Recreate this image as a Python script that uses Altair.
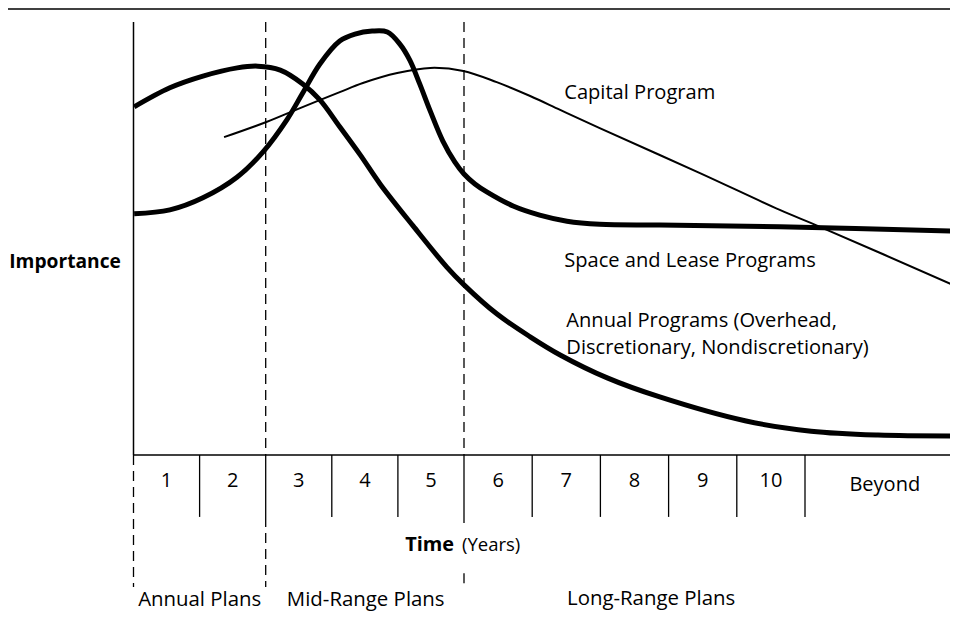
import altair as alt
import pandas as pd

# ---- curve values (x = years, y = relative importance; 0 = time axis, 100 = top of importance axis)
annual_x = [0.01, 0.55, 1.05, 1.57, 1.88, 2.22, 2.56, 2.82, 3.12, 3.43, 3.73, 4.23, 4.74, 5.00,
            5.48, 5.97, 6.41, 7.10, 7.87, 9.12, 10.09, 11.07, 12.14]
annual_y = [80.4, 84.8, 87.5, 89.4, 89.8, 88.9, 85.7, 82.0, 75.8, 69.3, 62.6, 52.9, 43.4, 39.3,
            32.6, 27.3, 23.1, 17.8, 13.4, 7.9, 5.5, 4.6, 4.4]

space_x = [0.01, 0.55, 1.05, 1.57, 1.96, 2.32, 2.56, 2.82, 3.12, 3.35, 3.61, 3.84, 4.03, 4.18,
           4.33, 4.49, 4.68, 4.86, 5.00, 5.16, 5.34, 5.72, 6.11, 6.51, 6.99, 7.87, 9.63, 12.20]
space_y = [55.7, 56.6, 59.4, 64.2, 70.0, 77.4, 83.6, 90.3, 95.6, 97.2, 97.9, 97.7, 94.9, 91.2,
           85.7, 79.4, 72.5, 67.7, 64.9, 62.6, 60.7, 57.5, 55.4, 54.0, 53.3, 53.1, 52.7, 51.7]

capital_x = [1.37, 2.01, 2.52, 3.12, 3.47, 3.99, 4.49, 4.99, 5.48, 5.97, 6.41, 6.99, 8.46, 9.63,
             10.22, 12.24]
capital_y = [73.4, 76.9, 80.1, 83.8, 85.9, 88.2, 89.4, 88.7, 86.1, 82.9, 79.7, 75.5, 65.1, 56.6,
             52.7, 38.8]

# ---- axis furniture
year_numbers = ["1", "2", "3", "4", "5", "6", "7", "8", "9", "10"]
year_centers = [0.5, 1.5, 2.5, 3.5, 4.5, 5.5, 6.5, 7.5, 8.5, 9.5]
cell_edges = [1, 2, 3, 4, 5, 6, 7, 8, 9, 10]
cell_bottom = [-14.3, -14.3, -14.3, -14.3, -15.7, -14.3, -14.3, -14.3, -14.3, -14.3]

# plan-period dividers (dashed)
divider_x = [0, 2, 2, 5, 5]
divider_top = [0, 100, -14.3, 100, -27.3]
divider_bottom = [-30.5, 0, -30.5, 0, -30.5]

# curve labels
curve_labels = ["Capital Program", "Space and Lease Programs", "Annual Programs (Overhead,",
                "Discretionary, Nondiscretionary)"]
curve_label_x = [6.47, 6.47, 6.50, 6.50]
curve_label_y = [82.2, 43.4, 29.6, 23.3]

plan_labels = ["Annual Plans", "Mid-Range Plans", "Long-Range Plans"]
plan_label_x = [0.07, 2.32, 6.51]
plan_label_y = [-34.9, -34.9, -34.7]

X_DOMAIN = [-1.899, 0, 5, 10, 12.126]
X_RANGE = [0, 125.5, 456, 797, 942]
Y_DOMAIN = [-36.49, 103.23]
FONT = "Open Sans"
INK = "#000000"

xs = alt.Scale(domain=X_DOMAIN, range=X_RANGE, nice=False, zero=False)
ys = alt.Scale(domain=Y_DOMAIN, nice=False, zero=False)


def X(f):
    return alt.X(f, type="quantitative", scale=xs, axis=None)


def Y(f):
    return alt.Y(f, type="quantitative", scale=ys, axis=None)


curves = pd.concat([
    pd.DataFrame({"x": annual_x, "y": annual_y, "series": "Annual"}),
    pd.DataFrame({"x": space_x, "y": space_y, "series": "Space"}),
])
capital = pd.DataFrame({"x": capital_x, "y": capital_y})

thick = alt.Chart(curves).mark_line(
    interpolate="catmull-rom", strokeWidth=5, color=INK, strokeCap="butt"
).encode(x=X("x"), y=Y("y"), detail="series:N")

thin = alt.Chart(capital).mark_line(
    interpolate="catmull-rom", strokeWidth=2, color=INK
).encode(x=X("x"), y=Y("y"))

# top border line
top_df = pd.DataFrame({"x": [X_DOMAIN[0]], "x2": [X_DOMAIN[-1]], "y": [103.0]})
top_line = alt.Chart(top_df).mark_rule(strokeWidth=1.5, color=INK).encode(
    x=X("x"), x2="x2", y=Y("y"))

# importance axis (vertical) and time axis (horizontal)
vax_df = pd.DataFrame({"x": [0], "y": [0], "y2": [100]})
vax = alt.Chart(vax_df).mark_rule(strokeWidth=1.5, color=INK).encode(
    x=X("x"), y=Y("y"), y2="y2")
hax_df = pd.DataFrame({"x": [0], "x2": [X_DOMAIN[-1]], "y": [0]})
hax = alt.Chart(hax_df).mark_rule(strokeWidth=1.5, color=INK).encode(
    x=X("x"), x2="x2", y=Y("y"))

cells_df = pd.DataFrame({"x": cell_edges, "y": [0] * len(cell_edges), "y2": cell_bottom})
cells = alt.Chart(cells_df).mark_rule(strokeWidth=1.3, color=INK).encode(
    x=X("x"), y=Y("y"), y2="y2")

div_df = pd.DataFrame({"x": divider_x, "y": divider_top, "y2": divider_bottom})
dividers = alt.Chart(div_df).mark_rule(strokeWidth=1.3, color=INK, strokeDash=[10, 6]).encode(
    x=X("x"), y=Y("y"), y2="y2")

# texts
num_df = pd.DataFrame({"x": year_centers, "y": [-7.4] * 10, "t": year_numbers})
nums = alt.Chart(num_df).mark_text(
    font=FONT, fontSize=20, color=INK, align="center", baseline="alphabetic"
).encode(x=X("x"), y=Y("y"), text="t:N")

beyond_df = pd.DataFrame({"x": [11.17], "y": [-8.3], "t": ["Beyond"]})
beyond = alt.Chart(beyond_df).mark_text(
    font=FONT, fontSize=20, color=INK, align="center", baseline="alphabetic"
).encode(x=X("x"), y=Y("y"), text="t:N")

cl_df = pd.DataFrame({"x": curve_label_x, "y": curve_label_y, "t": curve_labels})
clabels = alt.Chart(cl_df).mark_text(
    font=FONT, fontSize=20.1, color=INK, align="left", baseline="alphabetic"
).encode(x=X("x"), y=Y("y"), text="t:N")

pl_df = pd.DataFrame({"x": plan_label_x, "y": plan_label_y, "t": plan_labels})
plabels = alt.Chart(pl_df).mark_text(
    font=FONT, fontSize=20.4, color=INK, align="left", baseline="alphabetic"
).encode(x=X("x"), y=Y("y"), text="t:N")

imp_df = pd.DataFrame({"x": [-0.19], "y": [43.2], "t": ["Importance"]})
imp = alt.Chart(imp_df).mark_text(
    font=FONT, fontSize=19.2, fontWeight="bold", color=INK, align="right", baseline="alphabetic"
).encode(x=X("x"), y=Y("y"), text="t:N")

time_df = pd.DataFrame({"x": [4.11], "y": [-22.2], "t": ["Time"]})
time_b = alt.Chart(time_df).mark_text(
    font=FONT, fontSize=19.9, fontWeight="bold", color=INK, align="left", baseline="alphabetic"
).encode(x=X("x"), y=Y("y"), text="t:N")

years_df = pd.DataFrame({"x": [4.97], "y": [-22.2], "t": ["(Years)"]})
years_t = alt.Chart(years_df).mark_text(
    font=FONT, fontSize=18.5, color=INK, align="left", baseline="alphabetic"
).encode(x=X("x"), y=Y("y"), text="t:N")

chart = alt.layer(
    top_line, vax, hax, cells, dividers, thin, thick,
    nums, beyond, clabels, plabels, imp, time_b, years_t
).properties(
    width=942, height=605,
    autosize=alt.AutoSizeParams(type="none"),
    padding=0,
    background="white",
).configure_view(stroke=None)

chart.save("out.html", embed_options={"renderer": "svg", "actions": False})
